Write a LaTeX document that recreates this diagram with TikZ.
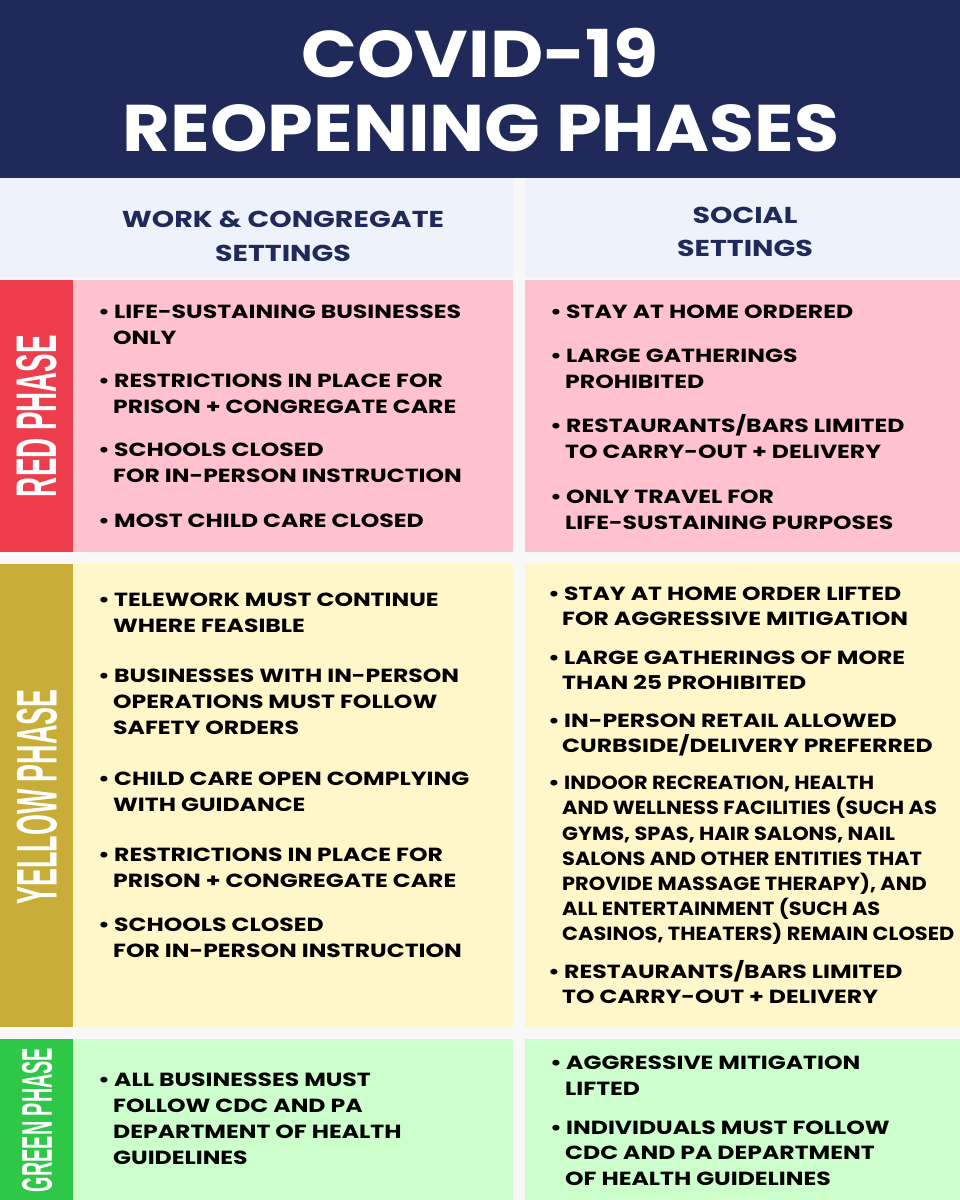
\documentclass[tikz,border=0pt]{standalone}
\usepackage{fontspec}
\setmainfont{Poppins}[BoldFont={* Bold}]
\newfontfamily\wfont{Poppins}[BoldFont={* Bold},FakeStretch=1.24]
\newfontfamily\nfont{Poppins}[BoldFont={* Bold},FakeStretch=1.1]
\newfontfamily\tfont{Poppins}[BoldFont={* Bold},FakeStretch=1.11]
\newfontfamily\labfont{Liberation Sans}
\usepackage{graphicx}
\definecolor{navy}{HTML}{1F2A5A}
\definecolor{hdr}{HTML}{EEF2FB}
\definecolor{gapc}{HTML}{F8F8F8}
\definecolor{rstrip}{HTML}{EE3E4E}
\definecolor{rcell}{HTML}{FFC2CE}
\definecolor{ystrip}{HTML}{C8AE38}
\definecolor{ycell}{HTML}{FFF6C9}
\definecolor{gstrip}{HTML}{2EC748}
\definecolor{gcell}{HTML}{CCFFCC}
\tikzset{ln/.style={anchor=base west,inner sep=0pt,font=\wfont\fontsize{19}{19}\selectfont\bfseries,text=black},
 nln/.style={ln,font=\nfont\fontsize{19}{19}\selectfont\bfseries},
 hd/.style={inner sep=0pt,font=\wfont\fontsize{23}{23}\selectfont\bfseries,text=navy},
 lab/.style={inner sep=0pt,rotate=90,text=white}}
\newcount\lnno
\newcommand\bl[4]{\global\advance\lnno by 1 \node[ln] (b\the\lnno) at (#1-2,#3+8) {•}; \node[ln] (t\the\lnno) at (#2,#3+8) {#4};}
\newcommand\cl[3]{\global\advance\lnno by 1 \node[ln] (c\the\lnno) at (#1,#2+8) {#3};}
\newcommand\nbl[4]{\global\advance\lnno by 1 \node[ln] (b\the\lnno) at (#1-2,#3+8) {•}; \node[nln] (t\the\lnno) at (#2,#3+8) {#4};}
\newcommand\ncl[3]{\global\advance\lnno by 1 \node[nln] (c\the\lnno) at (#1,#2+8) {#3};}
\begin{document}
\begin{tikzpicture}[x=1pt,y=-1pt]
\useasboundingbox (0,0) rectangle (960,1200);
\fill[gapc] (0,0) rectangle (960,1200);
\fill[navy] (0,0) rectangle (960,178);
\fill[hdr] (0,178) rectangle (513,278);
\fill[hdr] (525,178) rectangle (960,278);
\fill[rstrip] (0,280) rectangle (73,552);
\fill[rcell] (73,280) rectangle (513,552);
\fill[rcell] (525,280) rectangle (960,552);
\fill[ystrip] (0,564) rectangle (73,1027);
\fill[ycell] (73,564) rectangle (513,1027);
\fill[ycell] (525,564) rectangle (960,1027);
\fill[gstrip] (0,1039) rectangle (73,1200);
\fill[gcell] (73,1039) rectangle (513,1200);
\fill[gcell] (525,1039) rectangle (960,1200);
\node[inner sep=0pt,text=white,font=\tfont\fontsize{66}{66}\selectfont\bfseries] (t1) at (480,53) {COVID-19};
\node[inner sep=0pt,text=white,font=\tfont\fontsize{66}{66}\selectfont\bfseries] (t2) at (481,128) {REOPENING PHASES};
\node[hd] (h1) at (283,219) {WORK \& CONGREGATE};
\node[hd] (h2) at (283,253) {SETTINGS};
\node[hd] (h3) at (745,215) {SOCIAL};
\node[hd] (h4) at (745,248) {SETTINGS};
\node[lab] (lr) at (37,416) {\resizebox{162pt}{40pt}{\labfont\bfseries RED PHASE}};
\node[lab] (ly) at (37,797) {\resizebox{215pt}{40pt}{\labfont\bfseries YELLOW PHASE}};
\node[lab] (lg) at (37,1120) {\resizebox{144pt}{30pt}{\labfont\bfseries GREEN PHASE}};
% red left
\bl{100}{114}{310}{LIFE-SUSTAINING BUSINESSES}\cl{113}{336}{ONLY}
\bl{100}{114}{379}{RESTRICTIONS IN PLACE FOR}\cl{113}{405}{PRISON + CONGREGATE CARE}
\bl{100}{114}{448}{SCHOOLS CLOSED}\cl{113}{474}{FOR IN-PERSON INSTRUCTION}
\bl{100}{114}{519}{MOST CHILD CARE CLOSED}
% red right
\bl{552}{566}{310}{STAY AT HOME ORDERED}
\bl{552}{566}{354}{LARGE GATHERINGS}\cl{565}{380}{PROHIBITED}
\bl{552}{566}{424}{RESTAURANTS/BARS LIMITED}\cl{565}{450}{TO CARRY-OUT + DELIVERY}
\bl{552}{566}{495}{ONLY TRAVEL FOR}\cl{565}{521}{LIFE-SUSTAINING PURPOSES}
% yellow left
\bl{100}{114}{598}{TELEWORK MUST CONTINUE}\cl{113}{624}{WHERE FEASIBLE}
\bl{100}{114}{674}{BUSINESSES WITH IN-PERSON}\cl{113}{700}{OPERATIONS MUST FOLLOW}\cl{113}{726}{SAFETY ORDERS}
\bl{100}{114}{777}{CHILD CARE OPEN COMPLYING}\cl{113}{803}{WITH GUIDANCE}
\bl{100}{114}{853}{RESTRICTIONS IN PLACE FOR}\cl{113}{879}{PRISON + CONGREGATE CARE}
\bl{100}{114}{923}{SCHOOLS CLOSED}\cl{113}{949}{FOR IN-PERSON INSTRUCTION}
% yellow right
\bl{550}{564}{592}{STAY AT HOME ORDER LIFTED}\cl{562}{617}{FOR AGGRESSIVE MITIGATION}
\bl{550}{564}{656}{LARGE GATHERINGS OF MORE}\cl{562}{681}{THAN 25 PROHIBITED}
\bl{550}{564}{719}{IN-PERSON RETAIL ALLOWED}\cl{562}{744}{CURBSIDE/DELIVERY PREFERRED}
\nbl{550}{564}{781}{INDOOR RECREATION, HEALTH}\ncl{562}{806}{AND WELLNESS FACILITIES (SUCH AS}\ncl{562}{832}{GYMS, SPAS, HAIR SALONS, NAIL}\ncl{562}{857}{SALONS AND OTHER ENTITIES THAT}\ncl{562}{882}{PROVIDE MASSAGE THERAPY), AND}\ncl{562}{907}{ALL ENTERTAINMENT (SUCH AS}\ncl{562}{932}{CASINOS, THEATERS) REMAIN CLOSED}
\bl{550}{564}{970}{RESTAURANTS/BARS LIMITED}\cl{562}{995}{TO CARRY-OUT + DELIVERY}
% green
\bl{100}{114}{1078}{ALL BUSINESSES MUST}\cl{113}{1104}{FOLLOW CDC AND PA}\cl{113}{1130}{DEPARTMENT OF HEALTH}\cl{113}{1156}{GUIDELINES}
\bl{552}{566}{1061}{AGGRESSIVE MITIGATION}\cl{565}{1087}{LIFTED}
\bl{552}{566}{1126}{INDIVIDUALS MUST FOLLOW}\cl{565}{1151}{CDC AND PA DEPARTMENT}\cl{565}{1177}{OF HEALTH GUIDELINES}
\end{tikzpicture}
\end{document}
